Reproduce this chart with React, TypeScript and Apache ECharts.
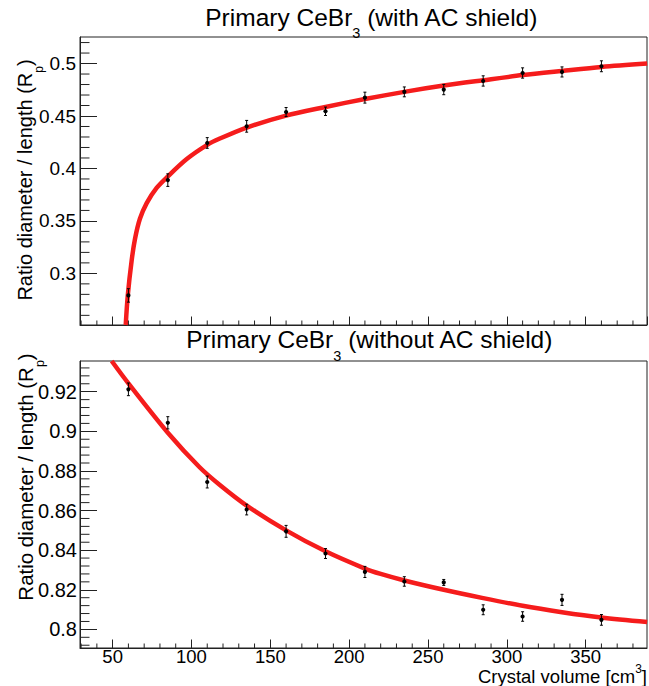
import React, { useEffect, useRef } from "react";
import * as echarts from "echarts";

// ---------------- data ----------------
const crystalVolume = [60, 85, 110, 135, 160, 185, 210, 235, 260, 285, 310, 335, 360];

const ratioWithShield = [0.279, 0.3889, 0.4243, 0.4402, 0.4538, 0.4545, 0.4675, 0.473, 0.4752, 0.4834, 0.491, 0.492, 0.4974];
const errWithShield = [0.0064, 0.006, 0.0051, 0.0056, 0.0043, 0.004, 0.0052, 0.0047, 0.0049, 0.0049, 0.0049, 0.0048, 0.0052];

const ratioWithoutShield = [0.9212, 0.9043, 0.8744, 0.8605, 0.8495, 0.8383, 0.829, 0.8242, 0.8237, 0.8099, 0.8065, 0.8149, 0.8048];
const errWithoutShield = [0.0032, 0.0031, 0.003, 0.0027, 0.003, 0.0025, 0.0028, 0.0024, 0.0015, 0.0025, 0.0024, 0.0028, 0.0027];

// fitted curves
const fitWithShieldX = [58.3, 59.6, 62.1, 64.2, 67.3, 71.6, 77.9, 84.7, 97, 110, 118, 135, 160, 185, 210, 235, 260, 285, 310, 335, 360, 389];
const fitWithShieldY = [0.2508, 0.279, 0.3127, 0.333, 0.352, 0.367, 0.3815, 0.392, 0.409, 0.4225, 0.4285, 0.439, 0.4504, 0.4586, 0.4662, 0.473, 0.479, 0.4841, 0.489, 0.493, 0.4968, 0.5];
const fitWithoutShieldX = [49.4, 60, 85, 105, 118, 135, 160, 185, 210, 220, 235, 260, 285, 310, 335, 360, 389];
const fitWithoutShieldY = [0.9355, 0.9242, 0.8993, 0.882, 0.8729, 0.8625, 0.85, 0.8394, 0.8307, 0.828, 0.8247, 0.82, 0.8158, 0.8119, 0.8087, 0.806, 0.8037];

// axis ranges
const xRange = [29.3, 388.9];
const yRangeWith = [0.2508, 0.5253];
const yRangeWithout = [0.7906, 0.9355];

// minor tick values
const xMinorTicks: number[] = [];
for (let k = 3; k <= 38; k++) if (k % 5 !== 0) xMinorTicks.push(k * 10);
const yMinorWith: number[] = [];
for (let k = 26; k <= 52; k++) if (k % 5 !== 0) yMinorWith.push(k / 100);
const yMinorWithout: number[] = [];
for (let k = 198; k <= 233; k++) if (k % 5 !== 0) yMinorWithout.push(+(k * 0.004).toFixed(3));

// ---------------- styling ----------------
const FONT = '"Liberation Sans", Arial, Helvetica, sans-serif';
const AXIS = "#222";
const RED = "#f51c1c";

let measureCtx: CanvasRenderingContext2D | null = null;
function measure(text: string, size: number): number {
  if (!measureCtx) measureCtx = document.createElement("canvas").getContext("2d")!;
  measureCtx.font = `${size}px ${FONT}`;
  return measureCtx.measureText(text).width;
}

type Part = { text: string; size: number; dy: number };

// first part is right-anchored at a split point, the rest are left-anchored after it,
// so that measurement errors only shift the whole line.
function textLine(parts: Part[], x: number, y: number, align: "center" | "right", rotation = 0) {
  const widths = parts.map((p) => measure(p.text, p.size));
  const total = widths.reduce((a, b) => a + b, 0);
  const start = align === "center" ? -total / 2 : -total;
  const split = start + widths[0];
  let cur = split;
  const children = parts.map((p, i) => {
    const el = {
      type: "text",
      x: i === 0 ? split : cur,
      y: p.dy,
      style: {
        text: p.text,
        fontSize: p.size,
        fontFamily: FONT,
        fill: "#000",
        align: i === 0 ? "right" : "left",
        verticalAlign: "middle",
      },
    };
    if (i > 0) cur += widths[i];
    return el;
  });
  return { type: "group", x, y, rotation, children };
}

function errorSeries(idx: number, values: number[], errs: number[]) {
  return {
    type: "custom",
    xAxisIndex: idx,
    yAxisIndex: idx,
    z: 5,
    clip: false,
    encode: { x: 0, y: 1 },
    data: values.map((v, k) => [crystalVolume[k], v, errs[k]]),
    renderItem: (_p: any, api: any) => {
      const x = api.value(0);
      const y = api.value(1);
      const e = api.value(2);
      const c = api.coord([x, y]);
      const hi = api.coord([x, y + e]);
      const lo = api.coord([x, y - e]);
      const cap = 1.5;
      const st = { stroke: "#000", lineWidth: 1 };
      return {
        type: "group",
        children: [
          { type: "line", shape: { x1: c[0], y1: hi[1], x2: c[0], y2: lo[1] }, style: st },
          { type: "line", shape: { x1: c[0] - cap, y1: hi[1], x2: c[0] + cap, y2: hi[1] }, style: st },
          { type: "line", shape: { x1: c[0] - cap, y1: lo[1], x2: c[0] + cap, y2: lo[1] }, style: st },
          { type: "circle", shape: { cx: c[0], cy: c[1], r: 2.1 }, style: { fill: "#000" } },
        ],
      };
    },
  };
}

function xMinorSeries(idx: number, yMin: number) {
  return {
    type: "custom",
    xAxisIndex: idx,
    yAxisIndex: idx,
    silent: true,
    clip: false,
    z: 3,
    encode: { x: 0, y: 1 },
    data: xMinorTicks.map((v) => [v, yMin]),
    renderItem: (_p: any, api: any) => {
      const c = api.coord([api.value(0), api.value(1)]);
      return { type: "line", shape: { x1: c[0], y1: c[1], x2: c[0], y2: c[1] - 4.5 }, style: { stroke: AXIS, lineWidth: 1 } };
    },
  };
}

function yMinorSeries(idx: number, ticks: number[]) {
  return {
    type: "custom",
    xAxisIndex: idx,
    yAxisIndex: idx,
    silent: true,
    clip: false,
    z: 3,
    encode: { x: 0, y: 1 },
    data: ticks.map((v) => [xRange[0], v]),
    renderItem: (_p: any, api: any) => {
      const c = api.coord([api.value(0), api.value(1)]);
      return { type: "line", shape: { x1: c[0], y1: c[1], x2: c[0] + 9.5, y2: c[1] }, style: { stroke: AXIS, lineWidth: 1 } };
    },
  };
}

function xAxisCfg(idx: number, showLabels: boolean) {
  return {
    type: "value",
    gridIndex: idx,
    min: xRange[0],
    max: xRange[1],
    splitNumber: 7,
    axisLine: { show: true, lineStyle: { color: AXIS, width: 1 } },
    axisTick: { show: true, inside: true, length: 8.5, lineStyle: { color: AXIS, width: 1 } },
    splitLine: { show: false },
    axisLabel: {
      show: showLabels,
      showMinLabel: false,
      showMaxLabel: false,
      fontSize: 18.5,
      fontFamily: FONT,
      color: "#000",
      margin: -1.5,
    },
  };
}

function yAxisCfg(idx: number, range: number[], split: number, fontSize: number, margin: number) {
  return {
    type: "value",
    gridIndex: idx,
    min: range[0],
    max: range[1],
    splitNumber: split,
    axisLine: { show: true, lineStyle: { color: AXIS, width: 1 } },
    axisTick: { show: true, inside: true, length: 17, lineStyle: { color: AXIS, width: 1 } },
    splitLine: { show: false },
    axisLabel: {
      showMinLabel: false,
      showMaxLabel: false,
      fontSize,
      fontFamily: FONT,
      color: "#000",
      margin,
    },
  };
}

function curveSeries(idx: number, xs: number[], ys: number[]) {
  return {
    type: "line",
    xAxisIndex: idx,
    yAxisIndex: idx,
    data: xs.map((x, i) => [x, ys[i]]),
    showSymbol: false,
    smooth: 0.3,
    lineStyle: { color: RED, width: 4.5 },
    z: 2,
    silent: true,
  };
}

function buildOption() {
  const graphic = [
    textLine(
      [
        { text: "Primary CeBr", size: 24.5, dy: 0 },
        { text: "3", size: 14.5, dy: 15.5 },
        { text: " (with AC shield)", size: 24.5, dy: 0 },
      ],
      372,
      17,
      "center"
    ),
    textLine(
      [
        { text: "Primary CeBr", size: 24.5, dy: 0 },
        { text: "3", size: 14.5, dy: 17 },
        { text: " (without AC shield)", size: 24.5, dy: 0 },
      ],
      370,
      339,
      "center"
    ),
    textLine(
      [
        { text: "Ratio diameter / length (R", size: 20, dy: 0 },
        { text: "p", size: 12, dy: 14 },
        { text: ")", size: 20, dy: 0 },
      ],
      25,
      180,
      "center",
      Math.PI / 2
    ),
    textLine(
      [
        { text: "Ratio diameter / length (R", size: 20.5, dy: 0 },
        { text: "p", size: 12.5, dy: 14.5 },
        { text: ")", size: 20.5, dy: 0 },
      ],
      25,
      477,
      "center",
      Math.PI / 2
    ),
    textLine(
      [
        { text: "Crystal volume [cm", size: 18.5, dy: 0 },
        { text: "3", size: 12, dy: -7 },
        { text: "]", size: 18.5, dy: 0 },
      ],
      647,
      676,
      "right"
    ),
  ];

  return {
    animation: false,
    backgroundColor: "#fff",
    textStyle: { fontFamily: FONT },
    grid: [
      { left: 80, top: 37, width: 567, height: 288, show: true, borderColor: AXIS, borderWidth: 1, backgroundColor: "transparent" },
      { left: 80, top: 361, width: 567, height: 287, show: true, borderColor: AXIS, borderWidth: 1, backgroundColor: "transparent" },
    ],
    xAxis: [xAxisCfg(0, false), xAxisCfg(1, true)],
    yAxis: [yAxisCfg(0, yRangeWith, 5, 19, 4), yAxisCfg(1, yRangeWithout, 7, 20, 3)],
    graphic,
    series: [
      curveSeries(0, fitWithShieldX, fitWithShieldY),
      curveSeries(1, fitWithoutShieldX, fitWithoutShieldY),
      errorSeries(0, ratioWithShield, errWithShield),
      errorSeries(1, ratioWithoutShield, errWithoutShield),
      xMinorSeries(0, yRangeWith[0]),
      xMinorSeries(1, yRangeWithout[0]),
      yMinorSeries(0, yMinorWith),
      yMinorSeries(1, yMinorWithout),
    ],
  };
}

export default function App() {
  const ref = useRef<HTMLDivElement>(null);
  useEffect(() => {
    document.body.style.margin = "0";
    const chart = echarts.init(ref.current!, null, { renderer: "svg" });
    chart.setOption(buildOption() as any);
    return () => chart.dispose();
  }, []);
  return <div ref={ref} style={{ position: "absolute", left: 0, top: 0, width: 649, height: 686 }} />;
}
